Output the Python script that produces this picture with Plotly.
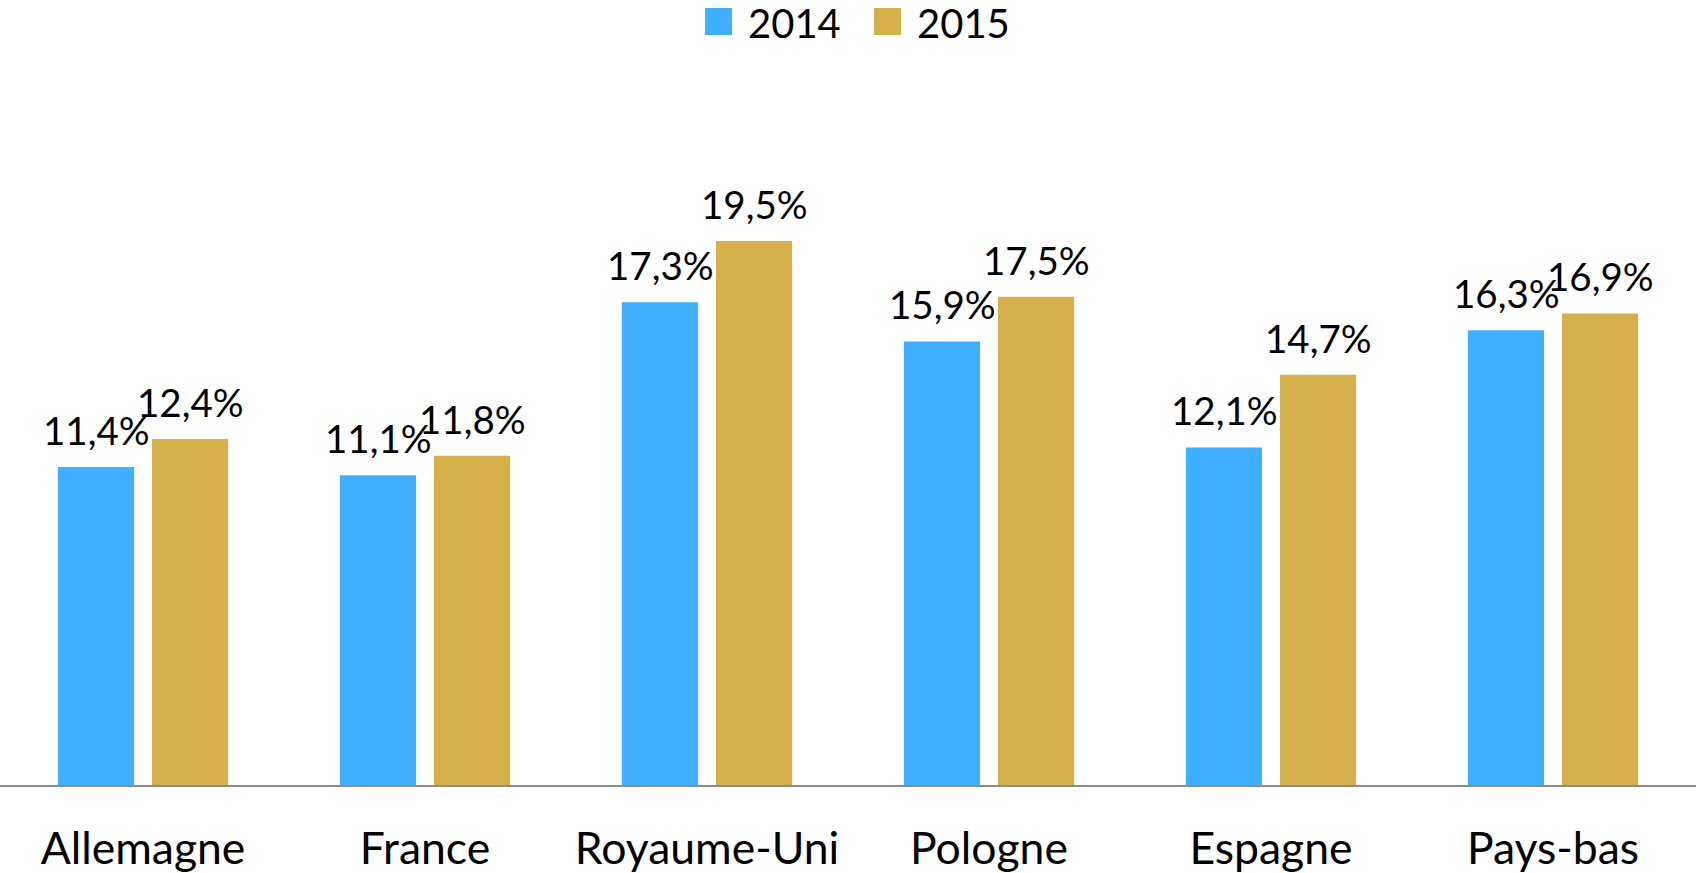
import plotly.graph_objects as go

categories = ["Allemagne", "France", "Royaume-Uni", "Pologne", "Espagne", "Pays-bas"]
values_2014 = [11.4, 11.1, 17.3, 15.9, 12.1, 16.3]
values_2015 = [12.4, 11.8, 19.5, 17.5, 14.7, 16.9]
series_names = ["2014", "2015"]
colors = ["#41AFFF", "#D5B04B"]

FONT = "Lato"
W, H = 1696, 873
ML, MR, MT, MB = 0, 0, 108, 88
PX_PER_UNIT = 27.9

fig = go.Figure()
for name, vals, col in zip(series_names, [values_2014, values_2015], colors):
    fig.add_trace(go.Bar(
        x=list(range(len(categories))), y=vals, name=name,
        marker=dict(color=col, line=dict(width=0)),
        showlegend=False, hoverinfo="skip",
    ))

def fmt(v):
    return f"{v:.1f}".replace(".", ",") + "%"

annotations = []
offsets = [-1/6, 1/6]
for off, vals in zip(offsets, [values_2014, values_2015]):
    for i, v in enumerate(vals):
        annotations.append(dict(
            x=i + off, y=v, xref="x", yref="y", text=fmt(v), showarrow=False,
            xanchor="center", yanchor="bottom", yshift=12,
            font=dict(family=FONT, size=38.5, color="black"),
        ))

# custom legend (large square swatches)
plot_h = H - MT - MB
def py(fig_y):
    return (H - MB - fig_y) / plot_h
def px(fig_x):
    return (fig_x - ML) / (W - ML - MR)

shapes = []
leg_x = [705, 874]
for name, col, x0 in zip(series_names, colors, leg_x):
    shapes.append(dict(type="rect", xref="paper", yref="paper",
                       x0=px(x0), x1=px(x0 + 27), y0=py(35), y1=py(8),
                       fillcolor=col, line=dict(width=0)))
    annotations.append(dict(x=px(x0 + 41), y=py(23), xref="paper", yref="paper",
                            text=name, showarrow=False, xanchor="left", yanchor="middle",
                            font=dict(family=FONT, size=40, color="black")))

fig.update_layout(
    width=W, height=H,
    margin=dict(l=ML, r=MR, t=MT, b=MB, autoexpand=False),
    paper_bgcolor="white", plot_bgcolor="white",
    barmode="group", bargap=0.333, bargroupgap=0.19,
    showlegend=False,
    annotations=annotations, shapes=shapes,
    font=dict(family=FONT, color="black"),
)
fig.update_xaxes(
    tickmode="array", tickvals=list(range(len(categories))), ticktext=categories,
    range=[-0.5071, 5.5071], showline=True, linecolor="#8C8C8C", linewidth=2,
    showgrid=False, zeroline=False, ticks="", ticklabelstandoff=24, automargin=False,
    tickfont=dict(family=FONT, size=44.5, color="black"),
)
fig.update_yaxes(range=[0, plot_h / PX_PER_UNIT], visible=False, showgrid=False,
                 zeroline=False, automargin=False)

fig.write_html(
    "out.html",
    config={"displayModeBar": False},
    post_script="document.body.style.margin='0';document.body.style.overflow='hidden';",
)
